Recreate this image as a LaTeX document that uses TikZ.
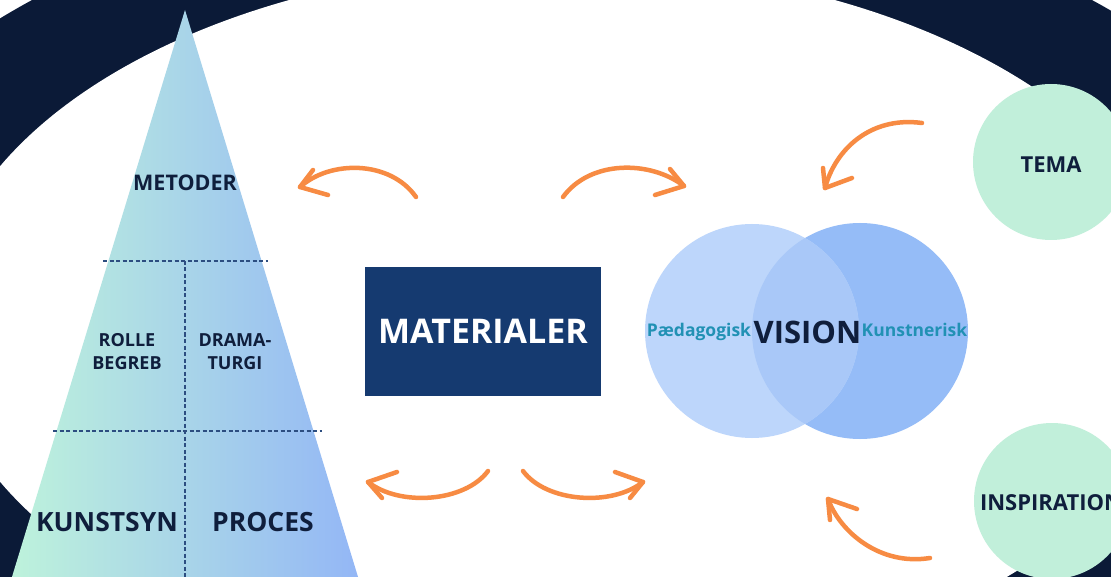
\documentclass[tikz,border=0pt]{standalone}
\usepackage{fontspec}
\setmainfont{Open Sans}
\definecolor{navy}{HTML}{0B1A37}
\definecolor{boxblue}{HTML}{153A70}
\definecolor{txt}{HTML}{0F1E3C}
\definecolor{tealtxt}{HTML}{2191B4}
\definecolor{orng}{HTML}{F78B43}
\definecolor{mint}{HTML}{C1EFDA}
\definecolor{vleft}{HTML}{BDD6FB}
\definecolor{vright}{HTML}{95BCF7}
\definecolor{vmid}{HTML}{A9C8F8}
\definecolor{dashcol}{HTML}{2C4D80}
\definecolor{pyrL}{HTML}{BEF3DB}
\definecolor{pyrM}{HTML}{A9D5E8}
\definecolor{pyrR}{HTML}{93B6F6}
\begin{document}
\begin{tikzpicture}[x=1pt,y=-1pt,
  lbl/.style={text=txt,inner sep=0pt,align=center},
  arr/.style={draw=orng,line width=4.5pt,line cap=round,line join=round},
  dline/.style={draw=dashcol,line width=1.4pt,dash pattern=on 4pt off 2.5pt}]
\useasboundingbox (0,0) rectangle (1111,577);
\clip (0,0) rectangle (1111,577);
\fill[white] (0,0) rectangle (1111,577);
% ring
\fill[navy] (562,324) ellipse [x radius=773pt, y radius=445pt];
\fill[white] (562,324) ellipse [x radius=625pt, y radius=360pt];
% pyramid
\shade[left color=pyrL, middle color=pyrM, right color=pyrR]
  (185,10) -- (8,590) -- (362,590) -- cycle;
\coordinate (h1l) at (103,261); \coordinate (h1r) at (268,261);
\coordinate (h2l) at (53,431);  \coordinate (h2r) at (322,431);
\coordinate (vt) at (185,261);  \coordinate (vb) at (185,580);
\draw[dline] (h1l) -- (h1r);
\draw[dline] (h2l) -- (h2r);
\draw[dline] (vt) -- (vb);
\node[lbl,font={\fontsize{21.5}{25}\selectfont\bfseries}] (metoder) at (185,183) {METODER};
\node[lbl,font={\fontsize{18}{23}\selectfont\bfseries}] (rolle) at (127,352) {ROLLE\\BEGREB};
\node[lbl,font={\fontsize{18}{23}\selectfont\bfseries}] (drama) at (235,352) {DRAMA-\\TURGI};
\node[lbl,font={\fontsize{26.5}{30}\selectfont\bfseries}] (kunstsyn) at (107,522) {KUNSTSYN};
\node[lbl,font={\fontsize{26.5}{30}\selectfont\bfseries}] (proces) at (263,522) {PROCES};
% materialer box
\node[fill=boxblue,minimum width=236pt,minimum height=129pt,inner sep=0pt,
  text=white,font={\fontsize{34}{40}\selectfont\bfseries}] (mat) at (483,331.5) {MATERIALER};
% venn
\fill[vright] (860,331) circle [radius=108pt];
\fill[vleft] (752,331) circle [radius=107pt];
\begin{scope}
  \clip (752,331) circle [radius=107pt];
  \fill[vmid] (860,331) circle [radius=108pt];
\end{scope}
\node[lbl,anchor=base,text=tealtxt,font={\fontsize{17.5}{20}\selectfont\bfseries}] (paed) at (699,337) {Pædagogisk};
\node[lbl,anchor=base,font={\fontsize{31}{36}\selectfont\bfseries}] (vision) at (807.5,343) {VISION};
\node[lbl,anchor=base,text=tealtxt,font={\fontsize{17.5}{20}\selectfont\bfseries}] (kunst) at (914.5,337) {Kunstnerisk};
% mint circles
\fill[mint] (1051,162) circle [radius=78pt];
\fill[mint] (1052,501) circle [radius=78pt];
\node[lbl,font={\fontsize{22}{26}\selectfont\bfseries}] (tema) at (1051,165) {TEMA};
\node[lbl,font={\fontsize{22}{26}\selectfont\bfseries}] (insp) at (1051,503) {INSPIRATION};
% arrows
\coordinate (a1s) at (416,197); \coordinate (a1t) at (300,187);
\draw[arr] (a1s) .. controls (390,160) and (330,160) .. (a1t);
\draw[arr] (313,170) -- (a1t) -- (328,195);
\coordinate (a2s) at (563,197); \coordinate (a2t) at (684,186);
\draw[arr] (a2s) .. controls (590,160) and (650,160) .. (a2t);
\draw[arr] (670,169) -- (a2t) -- (655,195);
\coordinate (a3s) at (488,471); \coordinate (a3t) at (368,482);
\draw[arr] (a3s) .. controls (465,502) and (400,507) .. (a3t);
\draw[arr] (397,472) -- (a3t) -- (382,498);
\coordinate (a4s) at (523,471); \coordinate (a4t) at (643,482);
\draw[arr] (a4s) .. controls (546,502) and (611,507) .. (a4t);
\draw[arr] (615,472) -- (a4t) -- (630,498);
\coordinate (a5s) at (922,123); \coordinate (a5t) at (825,188);
\draw[arr] (a5s) .. controls (870,116) and (835,150) .. (a5t);
\draw[arr] (823,168) -- (a5t) -- (852,178);
\coordinate (a6s) at (930,558); \coordinate (a6t) at (828,499);
\draw[arr] (a6s) .. controls (880,566) and (840,532) .. (a6t);
\draw[arr] (857,509) -- (a6t) -- (830,520);
\end{tikzpicture}
\end{document}
